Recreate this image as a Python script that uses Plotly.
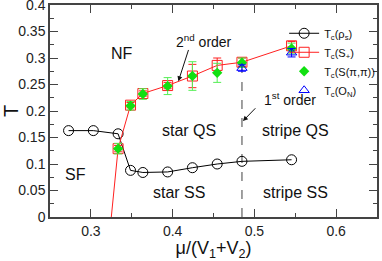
import plotly.graph_objects as go

# ---- data ----
mu_rho = [0.2727, 0.3030, 0.3333, 0.3485, 0.3636, 0.3939, 0.4242, 0.4545, 0.4848, 0.5455]
T_rho = [0.163, 0.163, 0.157, 0.088, 0.084, 0.085, 0.093, 0.100, 0.105, 0.108]

mu_S = [0.3333, 0.3485, 0.3636, 0.3939, 0.4242, 0.4545, 0.4848, 0.5455]
T_S = [0.129, 0.211, 0.233, 0.248, 0.266, 0.286, 0.292, 0.323]
err_S = [0.006, 0.005, 0.005, 0.006, 0.022, 0.014, 0.008, 0.008]

T_Spp = [0.129, 0.210, 0.232, 0.247, 0.266, 0.272, 0.291, 0.318]
err_Spp = [0.010, 0.008, 0.010, 0.016, 0.027, 0.018, 0.009, 0.010]

mu_ON = [0.4848, 0.5455]
T_ON = [0.281, 0.310]
err_ON = [0.006, 0.008]

# SF boundary (red line down to T=0)
mu_b = [0.325, 0.3333]
T_b = [0.0, 0.129]

# first-order line
mu_first = [0.4848, 0.4848]
T_first = [0.0, 0.280]

FONT = "Liberation Sans, Arial, sans-serif"
RED = "#ff2020"
GREEN = "#11e011"
BLUE = "#0000ff"

fig = go.Figure()

fig.add_trace(go.Scatter(x=mu_first, y=T_first, mode="lines",
                         line=dict(color="#808080", width=1.5, dash="dash"),
                         showlegend=False, hoverinfo="skip"))
fig.add_trace(go.Scatter(x=mu_b, y=T_b, mode="lines",
                         line=dict(color=RED, width=1), showlegend=False))

fig.add_trace(go.Scatter(x=mu_rho, y=T_rho, mode="lines+markers",
                         name="T<sub>c</sub>(ρ<sub>s</sub>)",
                         line=dict(color="black", width=1),
                         marker=dict(symbol="circle-open", size=10,
                                     color="black", line=dict(width=1))))
fig.add_trace(go.Scatter(x=mu_S, y=T_S, mode="lines+markers",
                         name="T<sub>c</sub>(S<sub>+</sub>)",
                         line=dict(color=RED, width=1),
                         marker=dict(symbol="square-open", size=10,
                                     color=RED, line=dict(width=1)),
                         error_y=dict(type="data", array=err_S, color=RED,
                                      thickness=1, width=4)))
fig.add_trace(go.Scatter(x=mu_S, y=T_Spp, mode="markers",
                         name="T<sub>c</sub>(S(π,π))",
                         marker=dict(symbol="diamond", size=8, color=GREEN),
                         error_y=dict(type="data", array=err_Spp, color="#55ee55",
                                      thickness=1, width=4)))
fig.add_trace(go.Scatter(x=mu_ON, y=T_ON, mode="markers",
                         name="T<sub>c</sub>(O<sub>N</sub>)",
                         marker=dict(symbol="triangle-up-open", size=9,
                                     color=BLUE, line=dict(width=1)),
                         error_y=dict(type="data", array=err_ON, color=BLUE,
                                      thickness=1, width=4)))

axis_common = dict(showline=True, linecolor="#444", linewidth=1.5, mirror="allticks",
                   ticks="inside", ticklen=8, tickwidth=1.2, tickcolor="#444",
                   showgrid=False, zeroline=False, automargin=False,
                   ticklabeloverflow="allow",
                   tickfont=dict(family=FONT, size=14, color="#222"))

fig.update_xaxes(range=[0.25, 0.65], tickvals=[0.3, 0.4, 0.5, 0.6],
                 ticktext=["0.3", "0.4", "0.5", "0.6"],
                 minor=dict(ticks="inside", ticklen=4, dtick=0.05, tick0=0.25,
                            tickcolor="#444", tickwidth=1),
                 title=dict(text="μ/(V<sub>1</sub>+V<sub>2</sub>)",
                            font=dict(family=FONT, size=18, color="#111"), standoff=2),
                 **axis_common)
fig.update_yaxes(range=[0, 0.4],
                 tickvals=[0, 0.05, 0.1, 0.15, 0.2, 0.25, 0.3, 0.35, 0.4],
                 ticktext=["0", "0.05", "0.1", "0.15", "0.2", "0.25", "0.3", "0.35", "0.4"],
                 minor=dict(ticks="inside", ticklen=4, dtick=0.025, tick0=0,
                            tickcolor="#444", tickwidth=1),
                 title=dict(text="T", font=dict(family=FONT, size=20, color="#111"), standoff=8),
                 **axis_common)

def txt(x, y, s, size=16):
    fig.add_annotation(x=x, y=y, text=s, showarrow=False, xref="x", yref="y",
                       font=dict(family=FONT, size=size, color="#111"))

txt(0.338, 0.308, "NF")
txt(0.420, 0.163, "star QS")
txt(0.4076, 0.046, "star SS")
txt(0.550, 0.163, "stripe QS")
txt(0.550, 0.047, "stripe SS")
txt(0.2815, 0.080, "SF")

fig.add_annotation(x=0.407, y=0.256, ax=0.42, ay=0.318, axref="x", ayref="y",
                   text="", showarrow=True, arrowhead=2, arrowsize=1, arrowwidth=1,
                   arrowcolor="#111")
txt(0.438, 0.333, "2<sup>nd</sup> order", size=14)
fig.add_annotation(x=0.486, y=0.181, ax=0.503, ay=0.208, axref="x", ayref="y",
                   text="", showarrow=True, arrowhead=2, arrowsize=1, arrowwidth=1,
                   arrowcolor="#111")
txt(0.544, 0.222, "1<sup>st</sup> order", size=14)

fig.update_layout(
    width=382, height=261,
    margin=dict(l=50, r=2, t=5, b=44),
    paper_bgcolor="white", plot_bgcolor="white",
    font=dict(family=FONT, color="#111"),
    legend=dict(x=0.716, y=0.935, xanchor="left", yanchor="top",
                bgcolor="rgba(0,0,0,0)", font=dict(family=FONT, size=11),
                tracegroupgap=0, itemwidth=30),
)

fig.write_html("out.html", config={"displayModeBar": False},
               post_script="document.body.style.margin='0';document.body.style.overflow='hidden';")
